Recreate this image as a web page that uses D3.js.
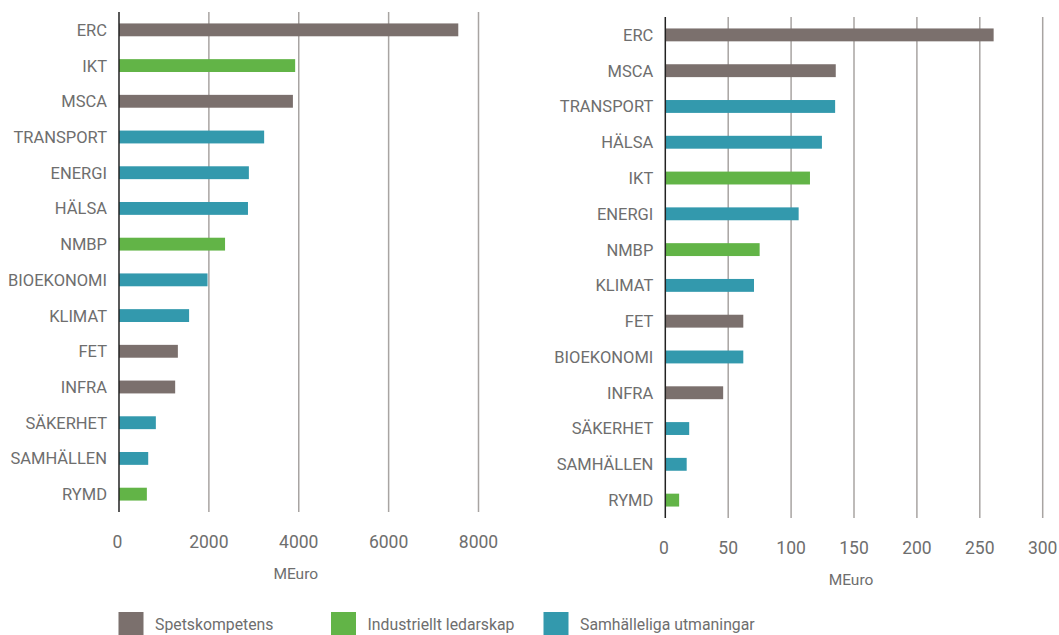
<!DOCTYPE html>
<html>
<head>
<meta charset="utf-8">
<script src="https://cdn.jsdelivr.net/npm/d3@7"></script>
<style>
  body { margin: 0; background: #fff; }
  text { font-family: Roboto, "Liberation Sans", sans-serif; fill: #6e6e6e; }
</style>
</head>
<body>
<div id="chart"></div>
<script>
// left panel
const leftCats = ["ERC", "IKT", "MSCA", "TRANSPORT", "ENERGI", "HÄLSA", "NMBP", "BIOEKONOMI", "KLIMAT", "FET", "INFRA", "SÄKERHET", "SAMHÄLLEN", "RYMD"];
const leftValues = [7550, 3920, 3870, 3230, 2890, 2870, 2360, 1970, 1560, 1310, 1250, 820, 650, 620];
const leftTicks = [0, 2000, 4000, 6000, 8000];

// right panel
const rightCats = ["ERC", "MSCA", "TRANSPORT", "HÄLSA", "IKT", "ENERGI", "NMBP", "KLIMAT", "FET", "BIOEKONOMI", "INFRA", "SÄKERHET", "SAMHÄLLEN", "RYMD"];
const rightValues = [261, 135.5, 135, 124.5, 115, 106, 75, 70.5, 62, 62, 46, 19, 17, 11];
const rightTicks = [0, 50, 100, 150, 200, 250, 300];

const groups = ["Spetskompetens", "Industriellt ledarskap", "Samhälleliga utmaningar"];
const groupColors = ["#7b706d", "#62b447", "#3399ad"];
const catGroup = {
  ERC: 0, MSCA: 0, FET: 0, INFRA: 0,
  IKT: 1, NMBP: 1, RYMD: 1,
  TRANSPORT: 2, ENERGI: 2, "HÄLSA": 2, BIOEKONOMI: 2, KLIMAT: 2, "SÄKERHET": 2, "SAMHÄLLEN": 2
};

const W = 1059, H = 635;
const svg = d3.select("#chart").append("svg")
    .attr("width", W)
    .attr("height", H);

const color = d3.scaleOrdinal().domain(groups).range(groupColors);

function panel(cats, values, ticks, x0, x1, y0, y1) {
  const x = d3.scaleLinear().domain([0, ticks[ticks.length - 1]]).range([x0, x1]);
  const y = d3.scaleBand().domain(cats).range([y0, y1]).paddingInner(0.64).paddingOuter(0.32);

  const g = svg.append("g");

  // gridlines
  g.selectAll("line.grid")
    .data(ticks.slice(1))
    .enter().append("line")
      .attr("class", "grid")
      .attr("x1", d => x(d)).attr("x2", d => x(d))
      .attr("y1", y0).attr("y2", y1)
      .attr("stroke", "#a8a4a2")
      .attr("stroke-width", 1.5);

  g.selectAll("rect.bar")
    .data(cats)
    .enter().append("rect")
      .attr("class", "bar")
      .attr("x", x(0))
      .attr("y", d => y(d))
      .attr("width", (d, i) => x(values[i]) - x(0))
      .attr("height", y.bandwidth())
      .attr("fill", d => color(groups[catGroup[d]]));

  // category labels
  g.selectAll("text.cat")
    .data(cats)
    .enter().append("text")
      .attr("class", "cat")
      .attr("x", x(0) - 12)
      .attr("y", d => y(d) + y.bandwidth() / 2)
      .attr("dy", "0.36em")
      .attr("text-anchor", "end")
      .style("font-size", "16.5px")
      .text(d => d);

  // zero axis
  g.append("line")
    .attr("x1", x(0)).attr("x2", x(0))
    .attr("y1", y0).attr("y2", y1)
    .attr("stroke", "#222")
    .attr("stroke-width", 1.5);

  // tick labels
  g.selectAll("text.tick")
    .data(ticks)
    .enter().append("text")
      .attr("class", "tick")
      .attr("x", d => x(d) - (d === 0 ? 1.5 : 0))
      .attr("y", y1 + 30)
      .attr("dy", "0.36em")
      .attr("text-anchor", "middle")
      .style("font-size", "17.5px")
      .text(d => d);

  g.append("text")
    .attr("x", (x0 + x1) / 2 - 3)
    .attr("y", y1 + 61)
    .attr("dy", "0.36em")
    .attr("text-anchor", "middle")
    .style("font-size", "15.5px")
    .text("MEuro");
}

panel(leftCats, leftValues, leftTicks, 119, 478.5, 12, 512);
panel(rightCats, rightValues, rightTicks, 665.3, 1042.7, 17, 518);

// legend
const legendX = [118.5, 331, 543.5];
const legend = svg.append("g");
legend.selectAll("rect")
  .data(groups)
  .enter().append("rect")
    .attr("x", (d, i) => legendX[i])
    .attr("y", 612)
    .attr("width", 25)
    .attr("height", 28)
    .attr("fill", d => color(d));
legend.selectAll("text")
  .data(groups)
  .enter().append("text")
    .attr("x", (d, i) => legendX[i] + 36.5)
    .attr("y", 624.5)
    .attr("dy", "0.36em")
    .style("font-size", "15.8px")
    .text(d => d);
</script>
</body>
</html>
